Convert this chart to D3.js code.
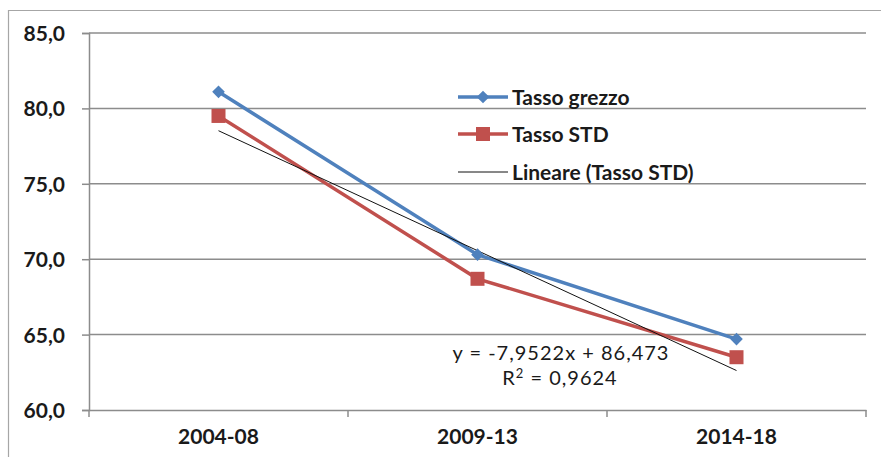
<!DOCTYPE html>
<html>
<head>
<meta charset="utf-8">
<script src="https://cdn.jsdelivr.net/npm/d3@7"></script>
<style>
  html, body { margin: 0; padding: 0; background: #fff; }
  svg { display: block; }
  text { font-family: Lato, "Open Sans", sans-serif; fill: #1a1a1a; }
</style>
</head>
<body>
<svg id="chart" width="881" height="457"></svg>
<script>
// Periods and rates
const categories = ["2004-08", "2009-13", "2014-18"];
const tassoGrezzo = [81.1, 70.3, 64.7];
const tassoSTD = [79.5, 68.7, 63.5];
// Linear trend of Tasso STD: y = slope * x + intercept, x = 1..3
const trendSlope = -7.9522;
const trendIntercept = 86.473;
const trendR2 = 0.9624;
const yTicks = [60, 65, 70, 75, 80, 85];
const seriesNames = ["Tasso grezzo", "Tasso STD", "Lineare (Tasso STD)"];

const svg = d3.select("#chart");
const plot = { left: 89, right: 866, top: 33, bottom: 410 };
const blue = "#4F81BD", red = "#C0504D", grid = "#8c8c8c";

const fmt = v => d3.format(".1f")(v).replace(".", ",");
const fmtN = (v, d) => v.toFixed(d).replace(".", ",");

// Chart frame
svg.append("path")
  .attr("d", "M8.5,457 V10.5 H881")
  .attr("fill", "none").attr("stroke", "#a6a6a6").attr("stroke-width", 1.2);

const x = d3.scaleBand().domain(categories).range([plot.left, plot.right]);
const y = d3.scaleLinear().domain([60, 85]).range([plot.bottom, plot.top]);
const cx = c => x(c) + x.bandwidth() / 2;

// Horizontal gridlines
svg.append("g").selectAll("line").data(yTicks.filter(t => t > 60)).join("line")
  .attr("x1", plot.left).attr("x2", plot.right)
  .attr("y1", d => y(d)).attr("y2", d => y(d))
  .attr("stroke", grid).attr("stroke-width", 1.5);

// Y axis
const yAxis = svg.append("g").attr("transform", `translate(${plot.left},0)`)
  .call(d3.axisLeft(y).tickValues(yTicks).tickFormat(fmt).tickSize(7).tickPadding(17));
yAxis.select(".domain").attr("stroke", grid).attr("stroke-width", 1.5);
yAxis.selectAll(".tick line").attr("stroke", grid).attr("stroke-width", 1.5);
yAxis.selectAll("text").attr("font-size", 21).attr("font-weight", "bold").attr("fill", "#222")
  .attr("font-family", "Lato, sans-serif").attr("dy", "0.36em");

// X axis
const xAxis = svg.append("g").attr("transform", `translate(0,${plot.bottom})`)
  .call(d3.axisBottom(x).tickSize(0).tickPadding(0));
xAxis.select(".domain").attr("stroke", grid).attr("stroke-width", 1.5);
xAxis.selectAll("text").attr("font-size", 21).attr("font-weight", "bold").attr("fill", "#222")
  .attr("font-family", "Lato, sans-serif").attr("y", 34).attr("dy", 0);
// Tick marks on band boundaries
const bounds = categories.map(c => x(c)).concat([plot.right]);
svg.append("g").selectAll("line").data(bounds).join("line")
  .attr("x1", d => d).attr("x2", d => d)
  .attr("y1", plot.bottom).attr("y2", plot.bottom + 7)
  .attr("stroke", grid).attr("stroke-width", 1.5);

const line = d3.line().x((d, i) => cx(categories[i])).y(d => y(d));

// Tasso grezzo
svg.append("path").datum(tassoGrezzo).attr("d", line)
  .attr("fill", "none").attr("stroke", blue).attr("stroke-width", 3.5);
// Tasso STD
svg.append("path").datum(tassoSTD).attr("d", line)
  .attr("fill", "none").attr("stroke", red).attr("stroke-width", 3.5);

// Trend line
const trend = categories.map((c, i) => trendSlope * (i + 1) + trendIntercept);
svg.append("path").datum(trend).attr("d", line)
  .attr("fill", "none").attr("stroke", "#111").attr("stroke-width", 1);

const diamond = d3.symbol().type(d3.symbolSquare).size(80);
function drawDiamond(g, px, py) {
  g.append("path").attr("d", diamond())
    .attr("transform", `translate(${px},${py}) rotate(45)`)
    .attr("fill", blue);
}
function drawSquare(g, px, py) {
  g.append("rect").attr("x", px - 7).attr("y", py - 7).attr("width", 14).attr("height", 14)
    .attr("fill", red);
}

const markers = svg.append("g");
tassoGrezzo.forEach((v, i) => drawDiamond(markers, cx(categories[i]), y(v)));
tassoSTD.forEach((v, i) => drawSquare(markers, cx(categories[i]), y(v)));

// Legend
const legend = svg.append("g");
const lg = [
  { name: seriesNames[0], y: 97, color: blue, w: 3.5, mark: drawDiamond },
  { name: seriesNames[1], y: 134, color: red, w: 3.5, mark: drawSquare },
  { name: seriesNames[2], y: 172, color: "#111", w: 1, mark: null }
];
lg.forEach(d => {
  legend.append("line").attr("x1", 458).attr("x2", 508).attr("y1", d.y).attr("y2", d.y)
    .attr("stroke", d.color).attr("stroke-width", d.w);
  if (d.mark) d.mark(legend, 483, d.y);
  legend.append("text").attr("x", 512).attr("y", d.y + 8)
    .attr("font-size", 21).attr("font-weight", "bold").attr("fill", "#111").text(d.name);
});

// Trend equation
const eq = svg.append("g").attr("font-size", 20).attr("text-anchor", "middle")
  .attr("letter-spacing", 1).attr("fill", "#111");
eq.append("text").attr("x", 561).attr("y", 360)
  .text(`y = ${fmtN(trendSlope, 4)}x + ${fmtN(trendIntercept, 3)}`);
const r2 = eq.append("text").attr("x", 560).attr("y", 385);
r2.append("tspan").text("R");
r2.append("tspan").attr("dy", -7).attr("font-size", 13).text("2");
r2.append("tspan").attr("dy", 7).text(` = ${fmtN(trendR2, 4)}`);
</script>
</body>
</html>
